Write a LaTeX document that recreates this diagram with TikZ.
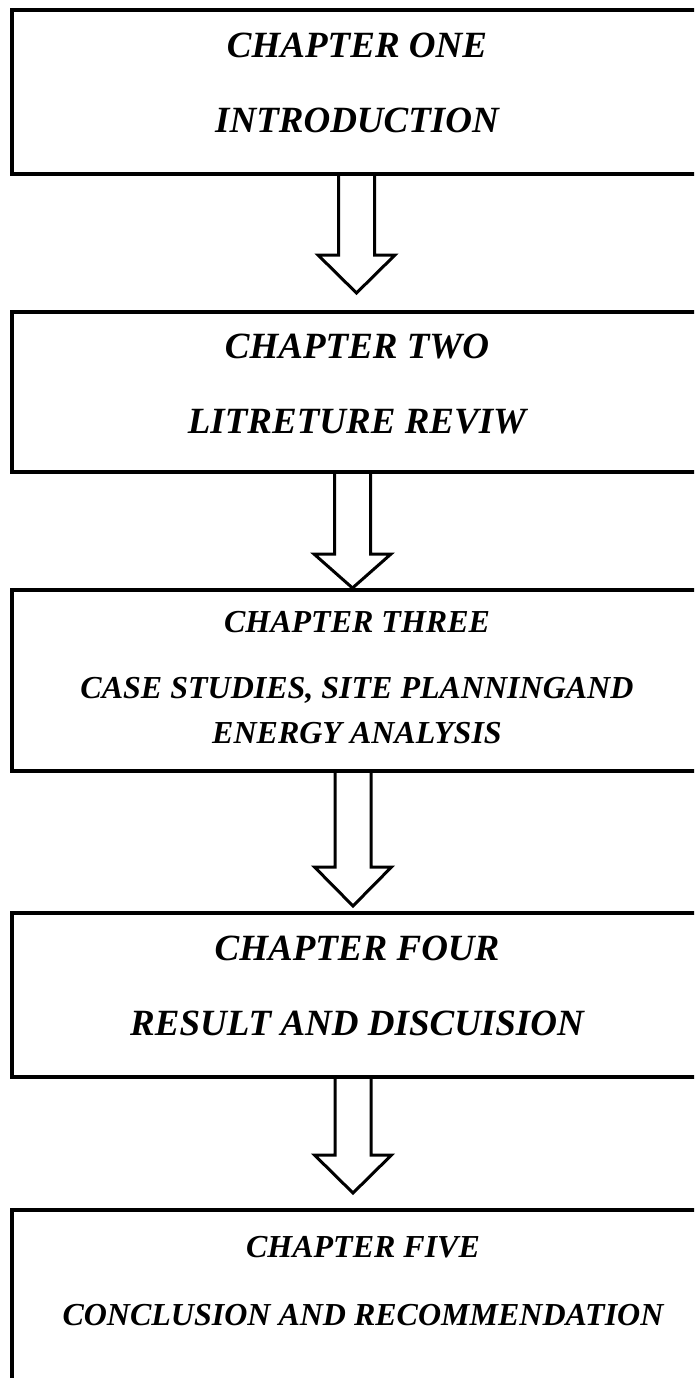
\documentclass[tikz,border=0pt]{standalone}
\usepackage{fontspec}
\setmainfont{Liberation Serif}
\usetikzlibrary{calc}
\tikzset{
  chapbox/.style={draw, line width=4pt, minimum width=690pt, inner sep=0pt, outer sep=0pt},
  bigtxt/.style={font=\bfseries\itshape\fontsize{37}{44}\selectfont, anchor=base, inner sep=0pt},
  smalltxt/.style={font=\bfseries\itshape\fontsize{32}{38}\selectfont, anchor=base, inner sep=0pt},
  blockarrow/.style={draw, line width=3pt, line join=miter},
}
\newcommand{\mybarrow}[3]{%
  \draw[blockarrow] ($(#1)+(-18,0)$) -- ($(#2)+(-18,-#3)$) -- ($(#2)+(-38.5,-#3)$) -- (#2)
    -- ($(#2)+(38.5,-#3)$) -- ($(#2)+(18,-#3)$) -- ($(#1)+(18,0)$);
}
\begin{document}
\begin{tikzpicture}[x=1pt, y=-1pt]
  \clip (0,0) rectangle (694,1378);
  \fill[white] (0,0) rectangle (694,1378);

  % boxes
  \node[chapbox, minimum height=164pt] (b1) at (357,92) {};
  \node[chapbox, minimum height=160pt] (b2) at (357,392) {};
  \node[chapbox, minimum height=181pt] (b3) at (357,680.5) {};
  \node[chapbox, minimum height=164pt] (b4) at (357,995) {};
  \node[chapbox, minimum height=190pt] (b5) at (357,1305) {};

  % texts
  \node[bigtxt] (t1a) at (357,58) {CHAPTER ONE};
  \node[bigtxt] (t1b) at (357,132) {INTRODUCTION};
  \node[bigtxt] (t2a) at (357,358) {CHAPTER TWO};
  \node[bigtxt] (t2b) at (357,433) {LITRETURE REVIW};
  \node[smalltxt] (t3a) at (357,632) {CHAPTER THREE};
  \node[smalltxt] (t3b) at (357,698) {CASE STUDIES, SITE PLANNINGAND};
  \node[smalltxt] (t3c) at (357,743) {ENERGY ANALYSIS};
  \node[bigtxt] (t4a) at (357,960) {CHAPTER FOUR};
  \node[bigtxt] (t4b) at (357,1035) {RESULT AND DISCUISION};
  \node[smalltxt] (t5a) at (363,1257) {CHAPTER FIVE};
  \node[smalltxt] (t5b) at (363,1325) {CONCLUSION AND RECOMMENDATION};

  % arrow anchors
  \coordinate (a1s) at ($(b1.south)+(-0.5,0)$);
  \coordinate (a1t) at (356.5,293);
  \coordinate (a2s) at ($(b2.south)+(-4.5,0)$);
  \coordinate (a2t) at ($(b3.north)+(-4.5,-2)$);
  \coordinate (a3s) at ($(b3.south)+(-4,0)$);
  \coordinate (a3t) at (353,906);
  \coordinate (a4s) at ($(b4.south)+(-4,0)$);
  \coordinate (a4t) at (353,1193);

  \mybarrow{a1s}{a1t}{38}
  \mybarrow{a2s}{a2t}{34}
  \mybarrow{a3s}{a3t}{39}
  \mybarrow{a4s}{a4t}{38}
\end{tikzpicture}
\end{document}
